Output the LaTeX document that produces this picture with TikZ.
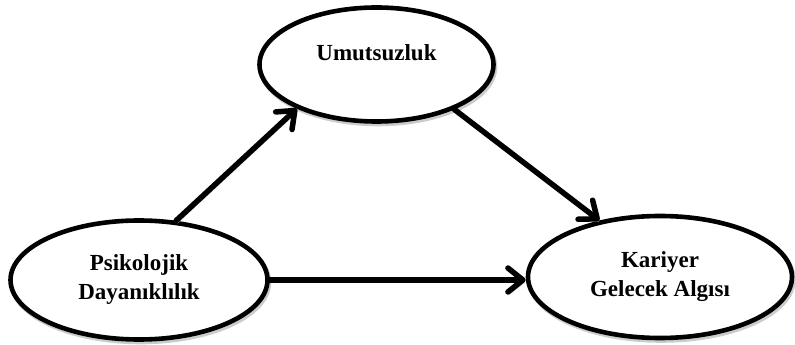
\documentclass[tikz,border=0pt]{standalone}
\usepackage{fontspec}
\setmainfont{Liberation Serif}
\usetikzlibrary{arrows.meta, shapes.geometric}

\begin{document}
\begin{tikzpicture}[x=1pt,y=1pt,
  construct/.style={ellipse, draw, line width=4.6pt, fill=white, inner sep=0pt,
    align=center, font=\bfseries\fontsize{23}{29}\selectfont,
    preaction={draw=black!20, line width=4.6pt,
      transform canvas={shift={(1.5pt,-2.5pt)}}}},
  effect/.style={line width=5.5pt, line cap=round,
    -{Straight Barb[length=15pt,width=24pt,round]},
    preaction={draw=black!20, transform canvas={shift={(1.5pt,-2.5pt)}}}}]
\useasboundingbox (0,0) rectangle (795,345);

% The three constructs of the model.
\node[construct, minimum width=234, minimum height=114, text depth=24pt]
  (umut) at (376.5,280.5) {Umutsuzluk};
\node[construct, minimum width=257, minimum height=119]
  (psi) at (139,65) {Psikolojik\\Dayanıklılık};
\node[construct, minimum width=264, minimum height=122]
  (kar) at (660,68) {Kariyer\\Gelecek Algısı};

% Paths between them.
\draw[effect] (psi.58) -- (umut.209);
\draw[effect] (umut.-30) -- (kar.137);
\draw[effect] (psi.east) -- (psi.east -| kar.west);
\end{tikzpicture}
\end{document}
